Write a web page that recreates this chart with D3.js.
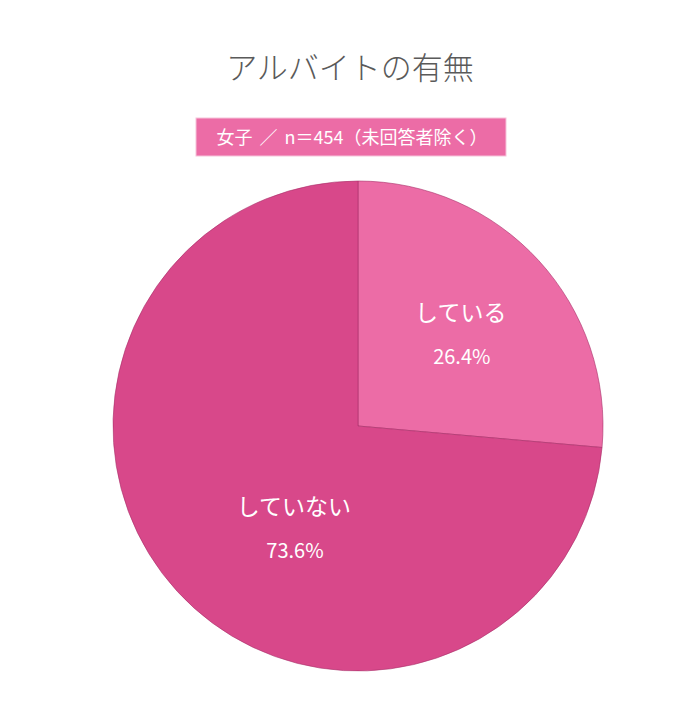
<!DOCTYPE html>
<html><head><meta charset="utf-8">
<script src="https://cdn.jsdelivr.net/npm/d3@7"></script>
<style>body{margin:0;background:#fff}</style>
</head><body>
<svg id="c" width="700" height="718"></svg>
<script>
const categories = ["している", "していない"];
const values = [26.4, 73.6];
const colors = ["#EC6CA6", "#D8488A"];
const title = "アルバイトの有無";
const subtitle = "女子 ／ n＝454（未回答者除く）";

const svg = d3.select("#c");
const font = "'Noto Sans CJK JP', 'Noto Sans', sans-serif";
svg.append("text").attr("x", 350).attr("y", 79).attr("text-anchor", "middle")
  .attr("font-family", font).attr("font-size", 31).attr("font-weight", 300).attr("fill", "#5a5a5a").text(title);

svg.append("rect").attr("x", 196).attr("y", 118).attr("width", 310).attr("height", 38)
  .attr("fill", "#EC6CA6").attr("stroke", "#f6c3da").attr("stroke-width", 1);
svg.append("text").attr("x", 352).attr("y", 144).attr("text-anchor", "middle")
  .attr("font-family", font).attr("font-size", 18).attr("font-weight", 400).attr("fill", "#fff")
  .attr("word-spacing", 3).text(subtitle);

const cx = 358, cy = 426, r = 245;
const pie = d3.pie().sort(null).value(d => d)(values);
const arc = d3.arc().innerRadius(0).outerRadius(r);
const g = svg.append("g").attr("transform", `translate(${cx},${cy})`);
g.selectAll("path").data(pie).join("path").attr("d", arc)
  .attr("fill", (d, i) => colors[i]).attr("stroke", "#a8306a").attr("stroke-width", 0.6);

// label placement (polar: angle in degrees clockwise from top, radius in px)
const labelPolar = [[50.6, 133], [210.3, 127]];
pie.forEach((d, i) => {
  const a = labelPolar[i][0] * Math.PI / 180, rr = labelPolar[i][1];
  const x = Math.sin(a) * rr, y = -Math.cos(a) * rr;
  g.append("text").attr("x", x).attr("y", y - 21).attr("text-anchor", "middle")
    .attr("font-family", font).attr("font-size", 23).attr("font-weight", 400).attr("fill", "#fff").text(categories[i]);
  g.append("text").attr("x", x + 1).attr("y", y + 22).attr("text-anchor", "middle")
    .attr("font-family", font).attr("font-size", 20).attr("font-weight", 400).attr("fill", "#fff").text(values[i].toFixed(1) + "%");
});
</script>
</body></html>
